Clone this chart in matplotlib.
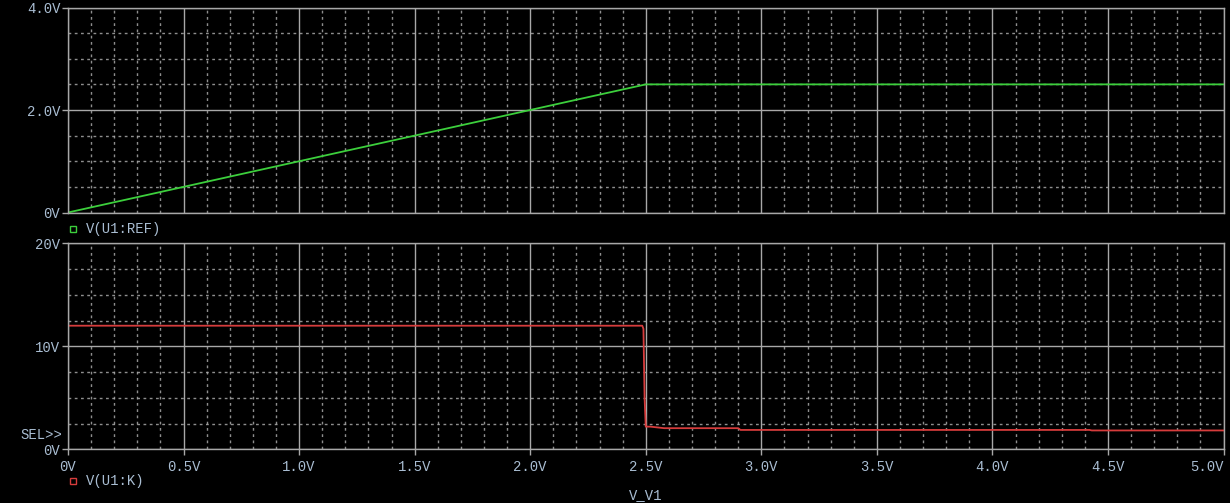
"""
PSpice DC sweep: V(U1:REF) and V(U1:K) vs V_V1
"""
import matplotlib
matplotlib.use("Agg")
import matplotlib.pyplot as plt
from matplotlib.ticker import MultipleLocator
from matplotlib.lines import Line2D

# ------------------------------------------------------------
# data
# ------------------------------------------------------------
sweep_ref = [0.0, 2.5, 5.0]
v_ref = [0.0, 2.5, 2.5]

sweep_k = [0.0, 2.485, 2.49, 2.495, 2.50, 2.52, 2.58, 2.90, 2.91, 4.42, 4.43, 5.0]
v_k = [12.0, 12.0, 11.7, 5.0, 2.2, 2.2, 2.05, 2.05, 1.88, 1.88, 1.83, 1.83]

x_ticks = [0.0, 0.5, 1.0, 1.5, 2.0, 2.5, 3.0, 3.5, 4.0, 4.5, 5.0]
x_labels = ["0V", "0.5V", "1.0V", "1.5V", "2.0V", "2.5V",
            "3.0V", "3.5V", "4.0V", "4.5V", "5.0V"]
ref_ticks = [0, 2, 4]
ref_labels = ["0V", "2.0V", "4.0V"]
k_ticks = [0, 10, 20]
k_labels = ["0V", "10V", "20V"]

# ------------------------------------------------------------
# style
# ------------------------------------------------------------
BG = "black"
GRID = "#a8a8a8"
TXT = "#a9bdd2"
GREEN = "#3ccf3c"
RED = "#d63c3c"
FONT = "Liberation Mono"
FS = 10

W, H = 1230, 503
fig = plt.figure(figsize=(W / 100, H / 100), dpi=100, facecolor=BG)


def box(x0, y0, x1, y1):
    # pixel box (top-left origin) -> figure fraction rect
    return [x0 / W, 1 - y1 / H, (x1 - x0) / W, (y1 - y0) / H]


ax1 = fig.add_axes(box(68, 7.5, 1223.5, 212.5))
ax2 = fig.add_axes(box(68, 243.3, 1223.5, 449.3))


def style(ax, ymax, yminor, yticks, ylabels, show_x):
    ax.set_facecolor(BG)
    ax.set_xlim(0, 5)
    ax.set_ylim(0, ymax)
    ax.xaxis.set_minor_locator(MultipleLocator(0.1))
    ax.yaxis.set_minor_locator(MultipleLocator(yminor))
    ax.set_xticks(x_ticks)
    ax.set_yticks(yticks)
    ax.set_yticklabels(ylabels, fontfamily=FONT, fontsize=FS, color=TXT)
    if show_x:
        labs = ax.set_xticklabels(x_labels, fontfamily=FONT, fontsize=FS,
                                  color=TXT)
        # PSpice pushes the last label inside the window
        labs[-1].set_horizontalalignment("right")
        ax.tick_params(axis="x", which="major", length=4.5, width=1,
                       color=GRID, pad=3)
    else:
        ax.set_xticklabels([])
        ax.tick_params(axis="x", which="major", length=0)
    ax.tick_params(axis="y", which="major", length=4.5, width=1,
                   color=GRID, pad=1)
    ax.tick_params(which="minor", length=0)
    ax.grid(which="major", color=GRID, lw=1, ls="-")
    ax.grid(which="minor", color=GRID, lw=1, ls=(0, (2, 2.5)), alpha=0.85)
    ax.set_axisbelow(True)
    for s in ax.spines.values():
        s.set_color(GRID)
        s.set_linewidth(1)


style(ax1, 4, 0.5, ref_ticks, ref_labels, False)
style(ax2, 20, 2.5, k_ticks, k_labels, True)

ax1.plot(sweep_ref, v_ref, color=GREEN, lw=1.3)
ax2.plot(sweep_k, v_k, color=RED, lw=1.3)


# legends below each plot
def legend(y, color, label):
    fig.add_artist(Line2D([73 / W], [1 - y / H], marker="s", ms=4.5,
                          mfc="none", mec=color, mew=1, ls="none",
                          transform=fig.transFigure))
    fig.text(86 / W, 1 - y / H, label, fontfamily=FONT, fontsize=FS,
             color=TXT, va="center", ha="left")


legend(229, GREEN, "V(U1:REF)")
legend(481, RED, "V(U1:K)")

fig.text(646 / W, 1 - 495 / H, "V_V1", fontfamily=FONT, fontsize=FS,
         color=TXT, va="center", ha="center")
fig.text(62 / W, 1 - 435 / H, "SEL>>", fontfamily=FONT, fontsize=FS,
         color=TXT, va="center", ha="right")

fig.savefig("out.png", dpi=100, facecolor=BG)
